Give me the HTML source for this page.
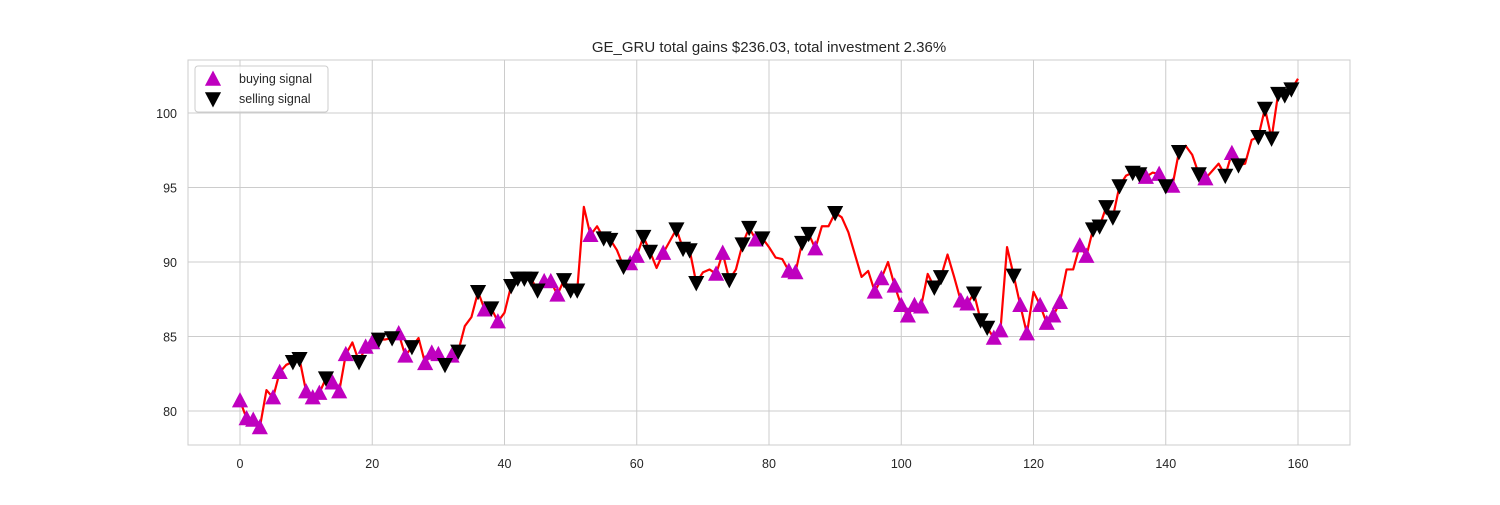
<!DOCTYPE html>
<html><head><meta charset="utf-8"><style>
body{margin:0;background:#fff;font-family:"Liberation Sans",sans-serif}
</style></head><body>
<svg id="chart" width="1500" height="500" xmlns="http://www.w3.org/2000/svg" font-family="Liberation Sans, sans-serif">
</svg>
<script>
const prices=[80.7,79.5,79.4,78.9,81.4,80.9,82.6,83.1,83.3,83.5,81.3,80.9,81.2,82.2,81.9,81.3,83.8,84.6,83.3,84.3,84.6,84.8,84.8,84.9,85.2,83.7,84.3,84.9,83.2,83.9,83.8,83.1,83.7,84.0,85.7,86.3,88.0,86.8,86.9,86.0,86.6,88.4,88.9,88.9,88.9,88.1,88.7,88.7,87.8,88.8,88.1,88.1,93.7,91.8,92.4,91.6,91.5,90.8,89.7,89.9,90.4,91.7,90.7,89.6,90.6,91.4,92.2,90.9,90.8,88.6,89.3,89.5,89.2,90.6,88.8,89.5,91.2,92.3,91.5,91.6,91.0,90.3,90.2,89.4,89.3,91.3,91.9,90.9,92.4,92.4,93.3,93.0,92.0,90.5,89.0,89.4,88.0,88.9,90.0,88.4,87.1,86.4,87.1,87.0,89.2,88.3,89.0,90.5,89.0,87.4,87.2,87.9,86.1,85.6,84.9,85.4,91.0,89.1,87.1,85.2,88.0,87.1,85.9,86.4,87.3,89.5,89.5,91.1,90.4,92.2,92.4,93.7,93.0,95.1,95.8,96.0,95.9,95.7,96.0,95.9,95.1,95.1,97.4,97.8,97.2,95.9,95.6,96.1,96.6,95.8,97.3,96.5,96.6,98.2,98.4,100.3,98.3,101.3,101.2,101.6,102.3];
const buyIdx=[0,1,2,3,5,6,10,11,12,14,15,16,19,20,24,25,28,29,30,32,37,39,46,47,48,53,59,60,64,72,73,78,83,84,87,96,97,99,100,101,102,103,109,110,114,115,118,119,121,122,123,124,127,128,137,139,141,146,150];
const sellIdx=[8,9,13,18,21,23,26,31,33,36,38,41,42,43,44,45,49,50,51,55,56,58,61,62,66,67,68,69,74,76,77,79,85,86,90,105,106,111,112,113,117,129,130,131,132,133,135,136,140,142,145,149,151,154,155,156,157,158,159];
const xTicks=[0,20,40,60,80,100,120,140,160];
const yTicks=[80,85,90,95,100];
const L=188,R=1350,T=60,B=445;
const X=v=>240+(v)*(1298-240)/160;
const Y=v=>411-(v-80)*(411-113)/20;
const svg=document.getElementById('chart');
const NS='http://www.w3.org/2000/svg';
function mk(tag,at,parent){const e=document.createElementNS(NS,tag);for(const k in at)e.setAttribute(k,at[k]);(parent||svg).appendChild(e);return e;}
let bg=mk('rect',{x:L,y:T,width:R-L,height:B-T,fill:'#fff',stroke:'#cccccc','stroke-width':1});


xTicks.forEach(t=>{
 let g=mk('line',{x1:X(t),x2:X(t),y1:T,y2:B,stroke:'#cccccc','stroke-width':1});
 
 
 let tx=mk('text',{x:X(t),y:B+23,'text-anchor':'middle','font-size':12.5,fill:'#262626'});
 tx.textContent=t;
 
 
});
yTicks.forEach(t=>{
 let g=mk('line',{x1:L,x2:R,y1:Y(t),y2:Y(t),stroke:'#cccccc','stroke-width':1});
 
 
 let tx=mk('text',{x:L-11,y:Y(t)+5,'text-anchor':'end','font-size':12.5,fill:'#262626'});
 tx.textContent=t;
 
 
});
let pl=mk('polyline',{points:prices.map((p,i)=>X(i)+','+Y(p)).join(' '),fill:'none',stroke:'#ff0000','stroke-width':2.2,'stroke-linejoin':'round'});


function up(cx,cy,s){return `${cx},${cy-s} ${cx-s*0.95},${cy+s*0.8} ${cx+s*0.95},${cy+s*0.8}`;}
function dn(cx,cy,s){return `${cx},${cy+s} ${cx-s*0.95},${cy-s*0.8} ${cx+s*0.95},${cy-s*0.8}`;}
buyIdx.forEach(i=>{
 let m=mk('polygon',{points:up(X(i),Y(prices[i]),8.5),fill:'#bf00bf'});
 
 
});
sellIdx.forEach(i=>{
 let m=mk('polygon',{points:dn(X(i),Y(prices[i]),8.5),fill:'#000'});
 
 
});
let title=mk('text',{x:(L+R)/2,y:52,'text-anchor':'middle','font-size':15,fill:'#262626'});
title.textContent='GE_GRU total gains $236.03, total investment 2.36%';


let lg=mk('g',{});


mk('rect',{x:195,y:66,width:133,height:46,rx:3,fill:'#fff','fill-opacity':0.8,stroke:'#cccccc'},lg);
let b1=mk('polygon',{points:up(213,79,8.5),fill:'#bf00bf'},lg);


let t1=mk('text',{x:239,y:83,'font-size':12.5,fill:'#262626'},lg);t1.textContent='buying signal';


let s1=mk('polygon',{points:dn(213,99,8.5),fill:'#000'},lg);


let t2=mk('text',{x:239,y:103,'font-size':12.5,fill:'#262626'},lg);t2.textContent='selling signal';


</script>
</body></html>
